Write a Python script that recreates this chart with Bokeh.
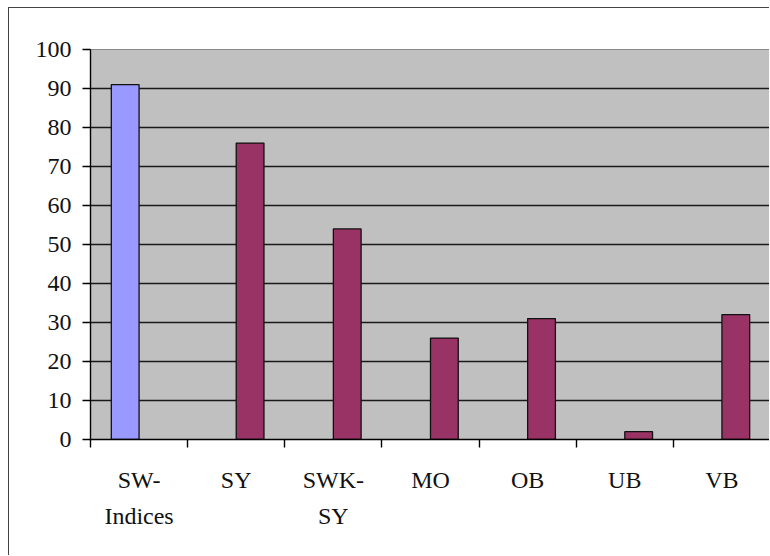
from bokeh.plotting import figure
from bokeh.models import ColumnDataSource, Range1d, FixedTicker, LinearAxis
from bokeh.transform import dodge
from bokeh.embed import file_html
from bokeh.resources import INLINE
import math

categories = ["SW-\nIndices", "SY", "SWK-\nSY", "MO", "OB", "UB", "VB"]
series_sw = [91, math.nan, math.nan, math.nan, math.nan, math.nan, math.nan]
series_other = [math.nan, 76, 54, 26, 31, 2, 32]
y_ticks = [0, 10, 20, 30, 40, 50, 60, 70, 80, 90, 100]

n = len(categories)
centers = [i + 0.5 for i in range(n)]
bounds = list(range(n + 1))
src = ColumnDataSource(dict(pos=centers, sw=series_sw, other=series_other))

p = figure(x_range=Range1d(0, n), y_range=Range1d(0, 100),
           width=761, height=548, output_backend="svg", toolbar_location=None,
           x_axis_location=None,
           min_border_left=81, min_border_top=41, min_border_bottom=117, min_border_right=0)
p.styles = {"margin-left": "8px", "margin-top": "7px",
            "border-left": "1.5px solid #444", "border-top": "1.5px solid #444"}

p.background_fill_color = "#c0c0c0"
p.border_fill_color = "white"
p.outline_line_color = "#8a8a8a"
p.outline_line_width = 1

bw = 0.2857
p.vbar(x=dodge("pos", -bw / 2), top="sw", width=bw, bottom=0, source=src,
       fill_color="#9999ff", line_color="#111111", line_width=1.3)
p.vbar(x=dodge("pos", bw / 2), top="other", width=bw, bottom=0, source=src,
       fill_color="#993366", line_color="#111111", line_width=1.3)

p.xgrid.visible = False
p.ygrid.ticker = FixedTicker(ticks=y_ticks[1:-1])
p.ygrid.grid_line_color = "#1a1a1a"
p.ygrid.grid_line_width = 1.4

# category axis: labels at centers, boundary ticks as minor ticks
cat_axis = LinearAxis(ticker=FixedTicker(ticks=centers, minor_ticks=bounds),
                      major_label_overrides={c: lab for c, lab in zip(centers, categories)})
p.add_layout(cat_axis, "below")
cat_axis.axis_line_color = "black"
cat_axis.axis_line_width = 1.4
cat_axis.major_tick_line_color = None
cat_axis.major_tick_out = 0
cat_axis.major_tick_in = 0
cat_axis.minor_tick_line_color = "black"
cat_axis.minor_tick_line_width = 1.4
cat_axis.minor_tick_out = 8
cat_axis.minor_tick_in = 0
cat_axis.major_label_standoff = 19
cat_axis.major_label_text_line_height = 1.4

p.yaxis.ticker = FixedTicker(ticks=y_ticks)
yax = p.yaxis[0]
yax.axis_line_color = "black"
yax.axis_line_width = 1.4
yax.major_tick_line_color = "black"
yax.major_tick_line_width = 1.4
yax.major_tick_out = 8
yax.major_tick_in = 0
yax.minor_tick_line_color = None
yax.major_label_standoff = 11

for ax in (cat_axis, yax):
    ax.major_label_text_font = "Liberation Serif"
    ax.major_label_text_font_size = "24px"
    ax.major_label_text_color = "#111111"

open("out.html", "w").write(file_html(p, INLINE))
